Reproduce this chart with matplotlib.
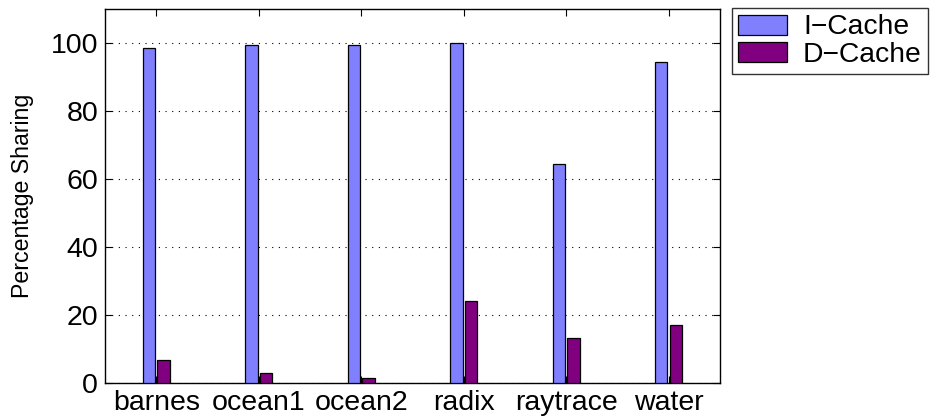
import numpy as np
import matplotlib.pyplot as plt

plt.rcParams['font.family'] = ['Liberation Sans', 'DejaVu Sans']

benchmarks = ['barnes', 'ocean1', 'ocean2', 'radix', 'raytrace', 'water']
icache = [98.5, 99.4, 99.4, 100.0, 64.3, 94.4]
dcache = [6.9, 3.0, 1.5, 24.1, 13.2, 17.2]

fig = plt.figure(figsize=(9.41, 4.16), dpi=100)
ax = fig.add_axes([0.1116, 0.0793, 0.6535, 0.8990])

x = np.arange(1, len(benchmarks) + 1)
w = 0.12
off = 0.072
ax.bar(x - off, icache, w, color='#8080ff', edgecolor='black', linewidth=0.9,
       label='I\u2212Cache', zorder=3)
ax.bar(x + off, dcache, w, color='#800080', edgecolor='black', linewidth=0.9,
       label='D\u2212Cache', zorder=3)

ax.set_xlim(0.5, 6.5)
ax.set_ylim(0, 110)
ax.set_xticks(x)
ax.set_xticklabels(benchmarks)
ax.set_yticks([0, 20, 40, 60, 80, 100])
ax.tick_params(direction='in', top=True, right=True, labelsize=20.5, length=5, pad=5)
ax.yaxis.grid(True, linestyle=(0, (1, 5)), color='black', linewidth=0.8)
ax.set_axisbelow(True)
for s in ax.spines.values():
    s.set_linewidth(1.0)
ax.set_ylabel('Percentage Sharing', fontsize=16.7, labelpad=12)

leg = ax.legend(loc='upper left', bbox_to_anchor=(1.0195, 1.002), fontsize=20.3,
                frameon=True, fancybox=False, edgecolor='black',
                handlelength=1.75, handleheight=0.72, borderpad=0.22,
                labelspacing=0.05, handletextpad=0.55, borderaxespad=0)
leg.get_frame().set_linewidth(1.0)

fig.savefig('out.png', dpi=100)
